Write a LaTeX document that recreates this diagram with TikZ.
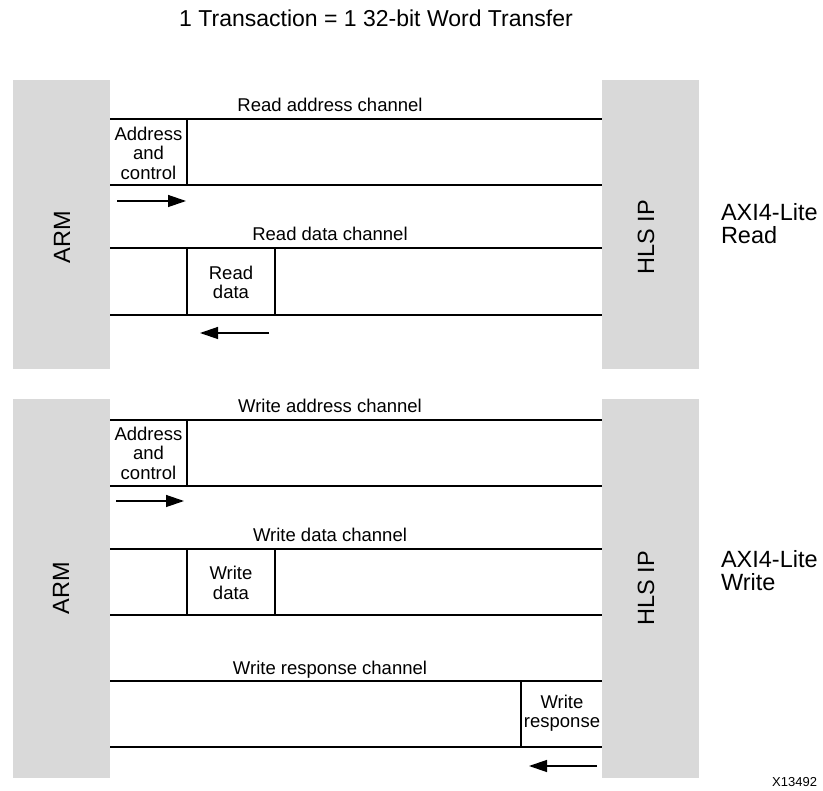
\documentclass[tikz,border=0pt]{standalone}
\usepackage{fontspec}
\setmainfont{Liberation Sans}
\usetikzlibrary{arrows.meta,positioning}
\definecolor{ipgray}{RGB}{217,217,217}

\begin{document}
\begin{tikzpicture}[
	x=1pt, y=-1pt,
	every node/.style={inner sep=0pt, outer sep=0pt},
	block/.style={fill=ipgray, minimum width=97.5pt},
	blocktext/.style={rotate=90, font=\fontsize{23.5}{24}\selectfont},
	chline/.style={line width=1.8pt},
	cellline/.style={line width=1.4pt},
	chlabel/.style={anchor=base, font=\fontsize{18.5}{19.5}\selectfont},
	cell/.style={align=center, font=\fontsize{18.5}{19.5}\selectfont},
	flow/.style={-{Triangle[length=18pt,width=12pt]}, line width=1.3pt},
	side/.style={anchor=west, align=left, font=\fontsize{23.5}{23.5}\selectfont}
	]
	\useasboundingbox (0,0) rectangle (823,791);
	
	\node[font=\fontsize{23}{23}\selectfont] (title) at (376,18) {1 Transaction = 1 32-bit Word Transfer};
	
	% read side
	\node[block, minimum height=289pt] (armR) at (61.5,224.5) {};
	\node[block, minimum height=289pt] (hlsR) at (650.5,224.5) {};
	\node[blocktext] (armRtxt) at (62,237) {ARM};
	\node[blocktext] (hlsRtxt) at (646,237) {HLS IP};
	\node[side] (axiR) at (721,223.5) {AXI4-Lite\\Read};
	
	\node[chlabel] (raLbl) at (330,112) {Read address channel};
	\draw[chline] (armR.east |- 0,119) -- (hlsR.west |- 0,119);
	\draw[chline] (armR.east |- 0,185) -- (hlsR.west |- 0,185);
	\draw[cellline] (187,119) -- (187,185);
	\node[cell] (raCell) at (148.5,153) {Address\\and\\control};
	\coordinate (raFrom) at (117,201);
	\coordinate (raTo) at (186,201);
	\draw[flow] (raFrom) -- (raTo);
	
	\node[chlabel] (rdLbl) at (330,241) {Read data channel};
	\draw[chline] (armR.east |- 0,248) -- (hlsR.west |- 0,248);
	\draw[chline] (armR.east |- 0,315) -- (hlsR.west |- 0,315);
	\draw[cellline] (187,248) -- (187,315);
	\draw[cellline] (275,248) -- (275,315);
	\node[cell] (rdCell) at (231,282.5) {Read\\data};
	\coordinate (rdFrom) at (269,333);
	\coordinate (rdTo) at (200,333);
	\draw[flow] (rdFrom) -- (rdTo);
	
	% write side
	\node[block, minimum height=379pt] (armW) at (61.5,588.5) {};
	\node[block, minimum height=379pt] (hlsW) at (650.5,588.5) {};
	\node[blocktext] (armWtxt) at (61,588) {ARM};
	\node[blocktext] (hlsWtxt) at (646,588) {HLS IP};
	\node[side] (axiW) at (721,570.5) {AXI4-Lite\\Write};
	
	\node[chlabel] (waLbl) at (330,413) {Write address channel};
	\draw[chline] (armW.east |- 0,420) -- (hlsW.west |- 0,420);
	\draw[chline] (armW.east |- 0,486) -- (hlsW.west |- 0,486);
	\draw[cellline] (187,420) -- (187,486);
	\node[cell] (waCell) at (148.5,453) {Address\\and\\control};
	\coordinate (waFrom) at (116,501);
	\coordinate (waTo) at (184,501);
	\draw[flow] (waFrom) -- (waTo);
	
	\node[chlabel] (wdLbl) at (330,542) {Write data channel};
	\draw[chline] (armW.east |- 0,549) -- (hlsW.west |- 0,549);
	\draw[chline] (armW.east |- 0,615) -- (hlsW.west |- 0,615);
	\draw[cellline] (187,549) -- (187,615);
	\draw[cellline] (275,549) -- (275,615);
	\node[cell] (wdCell) at (231,583) {Write\\data};
	
	\node[chlabel] (wrLbl) at (330,674) {Write response channel};
	\draw[chline] (armW.east |- 0,681) -- (hlsW.west |- 0,681);
	\draw[chline] (armW.east |- 0,747) -- (hlsW.west |- 0,747);
	\draw[cellline] (521,681) -- (521,747);
	\node[cell] (wrCell) at (562,713) {Write\\response};
	\coordinate (wrFrom) at (597,766);
	\coordinate (wrTo) at (529,766);
	\draw[flow] (wrFrom) -- (wrTo);
	
	\node[anchor=east, font=\fontsize{13}{13}\selectfont] (figId) at (817,782) {X13492};
\end{tikzpicture}
\end{document}
